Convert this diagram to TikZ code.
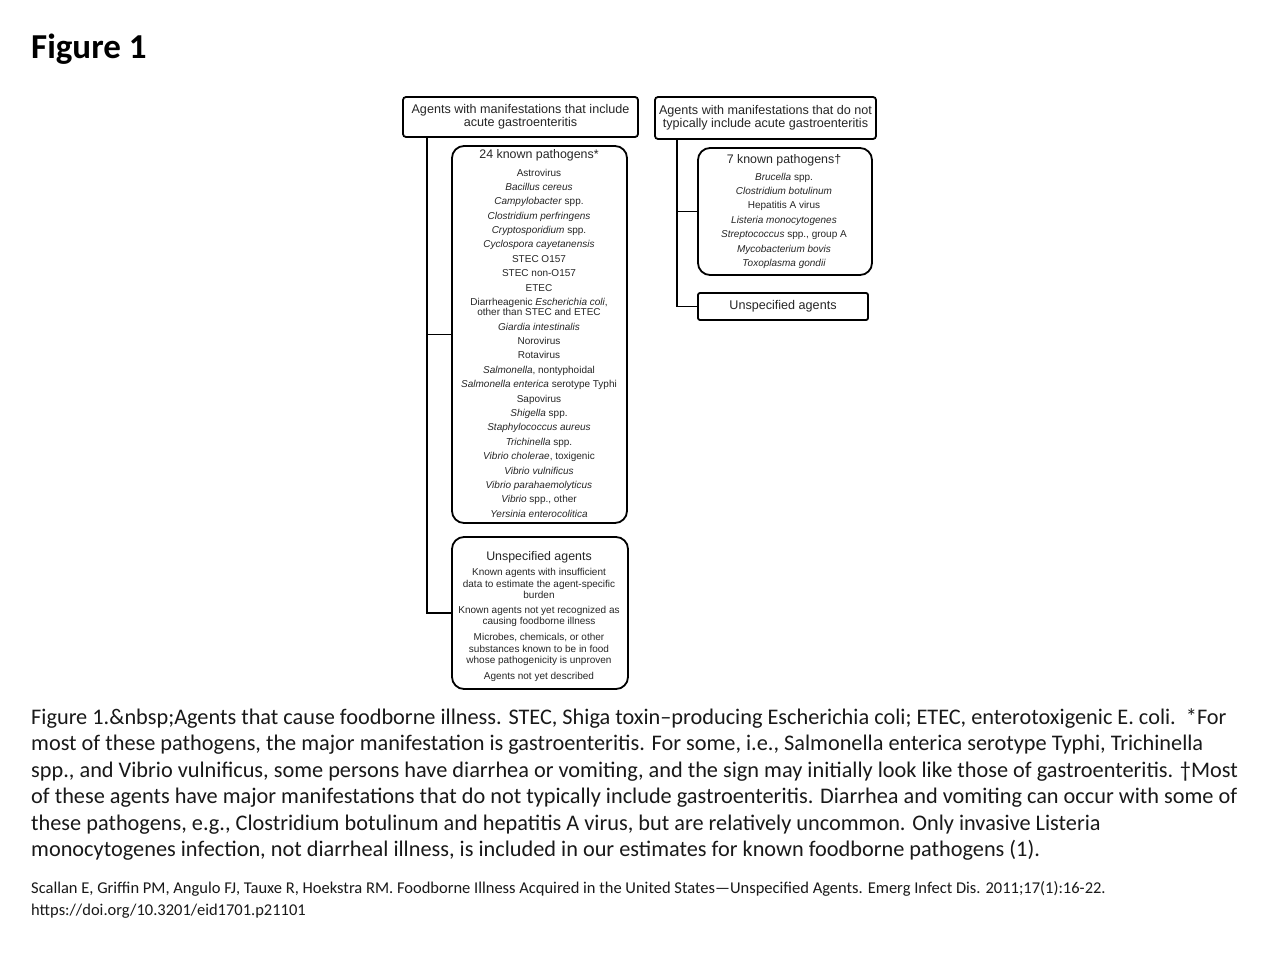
\documentclass[tikz,border=0pt]{standalone}
\usepackage{fontspec}
\setmainfont{Carlito}
\newfontfamily\diag{Liberation Sans}
\begin{document}
\begin{tikzpicture}[x=1pt,y=-1pt,
  hbox/.style={draw, line width=1.8pt, rounded corners=3pt, inner sep=0pt, align=center,
     font=\diag\fontsize{12.6}{13}\selectfont, text=black!85},
  lbox/.style={draw, line width=1.8pt, rounded corners=12pt, inner sep=0pt},
  item/.style={anchor=base, inner sep=0pt, font=\diag\fontsize{10}{11}\selectfont, text=black!85},
  head/.style={anchor=base, inner sep=0pt, font=\diag\fontsize{12.4}{13}\selectfont, text=black!85},
  conn/.style={line width=1.8pt},
  captext/.style={anchor=base west, inner sep=0pt, font=\fontsize{22.3}{26}\selectfont, text=black!90},
  reftext/.style={anchor=base west, inner sep=0pt, font=\fontsize{16.5}{20}\selectfont, text=black!90}]
\useasboundingbox (0,0) rectangle (1280,960);
\fill[white] (0,0) rectangle (1280,960);

\node[anchor=base west, inner sep=0pt, font=\bfseries\fontsize{35}{40}\selectfont] (title) at (31,59) {Figure 1};

% header boxes
\node[hbox, minimum width=235pt, minimum height=40pt] (A) at (520.5,117) {Agents with manifestations that include\\acute gastroenteritis};
\node[hbox, minimum width=221pt, minimum height=42pt] (B) at (765.5,118) {Agents with manifestations that do not\\typically include acute gastroenteritis};

% big boxes
\node[lbox, minimum width=175pt, minimum height=377pt] (P24) at (539.5,334.5) {};
\node[lbox, minimum width=176pt, minimum height=152pt] (U1) at (540,613) {};
\node[lbox, minimum width=174pt, minimum height=127pt] (P7) at (785,211.5) {};
\node[hbox, rounded corners=2pt, minimum width=170pt, minimum height=27pt] (U2) at (783,306.5) {Unspecified agents};

% connectors
\coordinate (Ac) at ([xshift=25pt]A.south west);
\coordinate (Bc) at ([xshift=23pt]B.south west);
\draw[conn] (Ac) |- (P24.west);
\draw[conn] (Ac) |- (U1.west);
\draw[conn] (Bc) |- (P7.west);
\draw[conn] (Bc) |- (U2.west);

% 24 known pathogens
\node[head] (h24) at (539,159) {24 known pathogens*};
\node[item] (p1) at (539,176.5) {Astrovirus};
\node[item] (p2) at (539,190.5) {\itshape Bacillus cereus};
\node[item] (p3) at (539,204.5) {\textit{Campylobacter} spp.};
\node[item] (p4) at (539,219.5) {\itshape Clostridium perfringens};
\node[item] (p5) at (539,233.5) {\textit{Cryptosporidium} spp.};
\node[item] (p6) at (539,247.5) {\itshape Cyclospora cayetanensis};
\node[item] (p7) at (539,262.5) {STEC O157};
\node[item] (p8) at (539,276.5) {STEC non-O157};
\node[item] (p9) at (539,291.5) {ETEC};
\node[item] (p10a) at (539,305.5) {Diarrheagenic \textit{Escherichia coli},};
\node[item] (p10b) at (539,315.5) {other than STEC and ETEC};
\node[item] (p11) at (539,330.5) {\itshape Giardia intestinalis};
\node[item] (p12) at (539,344.5) {Norovirus};
\node[item] (p13) at (539,358.5) {Rotavirus};
\node[item] (p14) at (539,373.5) {\textit{Salmonella}, nontyphoidal};
\node[item] (p15) at (539,387.5) {\textit{Salmonella enterica} serotype Typhi};
\node[item] (p16) at (539,402.5) {Sapovirus};
\node[item] (p17) at (539,416.5) {\textit{Shigella} spp.};
\node[item] (p18) at (539,430.5) {\itshape Staphylococcus aureus};
\node[item] (p19) at (539,445.5) {\textit{Trichinella} spp.};
\node[item] (p20) at (539,459.5) {\textit{Vibrio cholerae}, toxigenic};
\node[item] (p21) at (539,474.5) {\itshape Vibrio vulnificus};
\node[item] (p22) at (539,488.5) {\itshape Vibrio parahaemolyticus};
\node[item] (p23) at (539,502.5) {\textit{Vibrio} spp., other};
\node[item] (p24) at (539,517.5) {\itshape Yersinia enterocolitica};

% unspecified (left)
\node[head] (hu) at (539,560) {Unspecified agents};
\node[item] (u1) at (539,575.5) {Known agents with insufficient};
\node[item] (u2) at (539,587.5) {data to estimate the agent-specific};
\node[item] (u3) at (539,598.5) {burden};
\node[item] (u4) at (539,613.5) {Known agents not yet recognized as};
\node[item] (u5) at (539,624.5) {causing foodborne illness};
\node[item] (u6) at (539,640.5) {Microbes, chemicals, or other};
\node[item] (u7) at (539,652.5) {substances known to be in food};
\node[item] (u8) at (539,663.5) {whose pathogenicity is unproven};
\node[item] (u9) at (539,679.5) {Agents not yet described};

% 7 known pathogens
\node[head] (h7) at (784,164) {7 known pathogens†};
\node[item] (q1) at (784,180.5) {\textit{Brucella} spp.};
\node[item] (q2) at (784,194.5) {\itshape Clostridium botulinum};
\node[item] (q3) at (784,208.5) {Hepatitis A virus};
\node[item] (q4) at (784,223.5) {\itshape Listeria monocytogenes};
\node[item] (q5) at (784,237.5) {\textit{Streptococcus} spp., group A};
\node[item] (q6) at (784,252.5) {\itshape Mycobacterium bovis};
\node[item] (q7) at (784,266.5) {\itshape Toxoplasma gondii};

% caption
\node[captext] (c1) at (31,724) {Figure 1.\&nbsp;Agents that cause foodborne illness. STEC, Shiga toxin–producing Escherichia coli; ETEC, enterotoxigenic E. coli.\ \ *For};
\node[captext] (c2) at (31,750.5) {most of these pathogens, the major manifestation is gastroenteritis. For some, i.e., Salmonella enterica serotype Typhi, Trichinella};
\node[captext] (c3) at (31,777) {spp., and Vibrio vulnificus, some persons have diarrhea or vomiting, and the sign may initially look like those of gastroenteritis. †Most};
\node[captext] (c4) at (31,803.5) {of these agents have major manifestations that do not typically include gastroenteritis. Diarrhea and vomiting can occur with some of};
\node[captext] (c5) at (31,830) {these pathogens, e.g., Clostridium botulinum and hepatitis A virus, but are relatively uncommon. Only invasive Listeria};
\node[captext] (c6) at (31,856.5) {monocytogenes infection, not diarrheal illness, is included in our estimates for known foodborne pathogens (1).};
\node[reftext] (r1) at (31,893) {Scallan E, Griffin PM, Angulo FJ, Tauxe R, Hoekstra RM. Foodborne Illness Acquired in the United States—Unspecified Agents. Emerg Infect Dis. 2011;17(1):16-22.};
\node[reftext] (r2) at (31,915) {https://doi.org/10.3201/eid1701.p21101};
\end{tikzpicture}
\end{document}
